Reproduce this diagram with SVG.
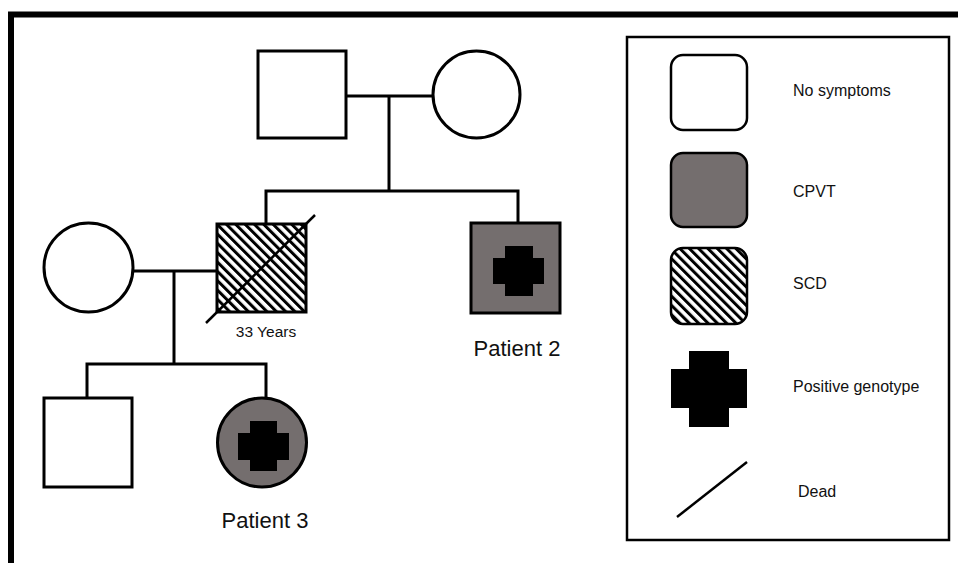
<svg xmlns="http://www.w3.org/2000/svg" width="958" height="563" viewBox="0 0 958 563">
  <defs>
    <pattern id="hatch" patternUnits="userSpaceOnUse" width="6.6" height="6.6" patternTransform="rotate(-45)">
      <rect width="6.6" height="6.6" fill="#fff"/>
      <rect width="3" height="6.6" fill="#000"/>
    </pattern>
    <symbol id="cross" viewBox="0 0 76 76">
      <path d="M18 0H58V18H76V57H58V76H18V57H0V18H18Z" fill="#000"/>
    </symbol>
  </defs>
  <style>
    .ind { stroke: #000; stroke-width: 3; fill: #fff; }
    .aff { fill: #746e6e; }
    .scd { fill: url(#hatch); }
    .line { stroke: #000; stroke-width: 3; fill: none; }
    .dead { stroke: #000; stroke-width: 2.5; fill: none; }
    .lab { font-family: "Liberation Sans", Arial, sans-serif; fill: #111; }
    .key { stroke: #000; stroke-width: 2.5; }
  </style>

  <rect width="958" height="563" fill="#fff"/>

  <!-- outer frame (top and left edges) -->
  <path d="M11 563V14.5H958" fill="none" stroke="#000" stroke-width="6"/>

  <!-- connectors -->
  <g id="connectors" class="line">
    <path d="M346 96H433"/>
    <path d="M389 96V191"/>
    <path d="M266 224V191H518V223"/>
    <path d="M133 271H217"/>
    <path d="M174 271V364"/>
    <path d="M87 398V364H266V398"/>
  </g>

  <!-- generation I -->
  <g id="father">
    <rect class="ind" x="258" y="51" width="88" height="87"/>
  </g>
  <g id="mother">
    <circle class="ind" cx="476.5" cy="94.5" r="43.5"/>
  </g>

  <!-- generation II -->
  <g id="wife">
    <circle class="ind" cx="88.5" cy="267.5" r="44.5"/>
  </g>
  <g id="brother-scd">
    <rect class="ind scd" x="217" y="224" width="89" height="88"/>
    <path class="dead" d="M206 323L315 215"/>
    <text class="lab" x="266" y="337" font-size="15.5" text-anchor="middle">33 Years</text>
  </g>
  <g id="patient2">
    <rect class="ind aff" x="471" y="223" width="89" height="90"/>
    <path d="M505 246H533V258H544V284H533V296H505V284H493V258H505Z" fill="#000"/>
    <text class="lab" x="517" y="356" font-size="22" text-anchor="middle">Patient 2</text>
  </g>

  <!-- generation III -->
  <g id="son">
    <rect class="ind" x="44" y="398" width="88" height="89"/>
  </g>
  <g id="patient3">
    <circle class="ind aff" cx="262" cy="442.5" r="44.5"/>
    <path d="M250 421H277V433H289V460H277V471H250V460H238V433H250Z" fill="#000"/>
    <text class="lab" x="265" y="528" font-size="22" text-anchor="middle">Patient 3</text>
  </g>

  <!-- legend -->
  <g id="legend">
    <rect x="627" y="37" width="322" height="503" fill="none" stroke="#000" stroke-width="2.5"/>
    <g id="key-none">
      <rect class="key" x="671" y="55" width="76" height="75" rx="12" fill="#fff"/>
      <text class="lab" x="793" y="96" font-size="16">No symptoms</text>
    </g>
    <g id="key-cpvt">
      <rect class="key aff" x="671" y="153" width="76" height="74" rx="12"/>
      <text class="lab" x="793" y="197" font-size="16">CPVT</text>
    </g>
    <g id="key-scd">
      <rect class="key scd" x="671" y="248" width="76" height="76" rx="12"/>
      <text class="lab" x="793" y="289" font-size="16">SCD</text>
    </g>
    <g id="key-genotype">
      <path d="M689 351H729V369H747V408H729V427H689V408H671V369H689Z" fill="#000"/>
      <text class="lab" x="793" y="392" font-size="16">Positive genotype</text>
    </g>
    <g id="key-dead">
      <path class="dead" d="M677 517L747 462"/>
      <text class="lab" x="798" y="497" font-size="16">Dead</text>
    </g>
  </g>
</svg>
